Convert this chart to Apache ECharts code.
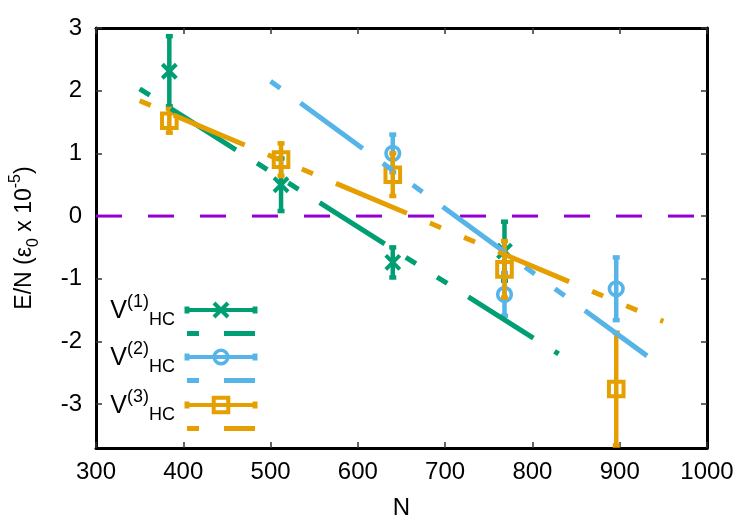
<!DOCTYPE html>
<html>
<head>
<meta charset="utf-8">
<script src="https://cdn.jsdelivr.net/npm/echarts@6/dist/echarts.min.js"></script>
<style>
html, body { margin: 0; padding: 0; background: #fff; }
#box { width: 750px; height: 525px; }
</style>
</head>
<body>
<div id="box"></div>
<script>
// data points with error bars: N, E/N, error
const nV1 = [384, 512, 640, 768]
const eV1 = [2.31, 0.50, -0.74, -0.56]
const errV1 = [0.56, 0.42, 0.24, 0.47]
const nV2 = [640, 768, 896]
const eV2 = [1.00, -1.25, -1.16]
const errV2 = [0.30, 0.34, 0.50]
const nV3 = [384, 512, 640, 768, 896]
const eV3 = [1.52, 0.90, 0.66, -0.85, -2.76]
const errV3 = [0.19, 0.26, 0.34, 0.45, 0.90]

// fitted lines (end points)
const fitN1 = [350, 830]
const fitE1 = [2.03, -2.20]
const fitN2 = [500, 950]
const fitE2 = [2.15, -2.42]
const fitN3 = [350, 950]
const fitE3 = [1.84, -1.68]

const zeroN = [300, 1000]
const zeroE = [0, 0]

const yTicks = [-3, -2, -1, 0, 1, 2, 3]

const GREEN = '#009E73'
const BLUE = '#56B4E9'
const ORANGE = '#E69F00'
const VIOLET = '#9400D3'
const FONT = 'Liberation Sans, Arial, sans-serif'
const DASH = [12, 25, 77, 25, 12, 25]

function rows (n, e, err) {
  return n.map((x, i) => [x, e[i], err === undefined ? 0 : err[i]])
}

// marker shapes, centred on (cx, cy)
function marker (kind, cx, cy, color) {
  if (kind === 'x') {
    const s = 7
    const st = { stroke: color, lineWidth: 4, fill: null }
    return [
      { type: 'line', shape: { x1: cx - s, y1: cy - s, x2: cx + s, y2: cy + s }, style: st },
      { type: 'line', shape: { x1: cx - s, y1: cy + s, x2: cx + s, y2: cy - s }, style: st }
    ]
  }
  if (kind === 'circle') {
    return [{ type: 'circle', shape: { cx: cx, cy: cy, r: 6.8 }, style: { stroke: color, lineWidth: 3.6, fill: null } }]
  }
  return [{ type: 'rect', shape: { x: cx - 7.3, y: cy - 7.3, width: 14.6, height: 14.6 }, style: { stroke: color, lineWidth: 4, fill: null } }]
}

function errRender (kind, color) {
  return function (params, api) {
    const x = api.value(0)
    const y = api.value(1)
    const e = api.value(2)
    const c = api.coord([x, y])
    const top = api.coord([x, y + e])
    const bot = api.coord([x, y - e])
    const st = { stroke: color, lineWidth: 4.5, fill: null }
    const kids = [
      { type: 'line', shape: { x1: c[0], y1: top[1], x2: c[0], y2: bot[1] }, style: st },
      { type: 'line', shape: { x1: c[0] - 3.5, y1: top[1], x2: c[0] + 3.5, y2: top[1] }, style: st },
      { type: 'line', shape: { x1: c[0] - 3.5, y1: bot[1], x2: c[0] + 3.5, y2: bot[1] }, style: st }
    ]
    return { type: 'group', children: kids.concat(marker(kind, c[0], c[1], color)) }
  }
}

function errSeries (name, kind, color, data) {
  return {
    type: 'custom',
    name: name,
    clip: true,
    silent: true,
    encode: { x: 0, y: 1 },
    renderItem: errRender(kind, color),
    data: data
  }
}

function fitSeries (name, color, n, e) {
  return {
    type: 'line',
    name: name,
    silent: true,
    symbol: 'none',
    lineStyle: { color: color, width: 5, type: DASH, cap: 'butt' },
    data: rows(n, e).map(r => [r[0], r[1]])
  }
}

// legend drawn by hand (gnuplot style key)
const keyRows = [310, 333.5, 357, 380.5, 405, 428.5]
const keyX1 = 187
const keyX2 = 255
const keyLabels = ['V{sup|(1)}{sub|HC}', 'V{sup|(2)}{sub|HC}', 'V{sup|(3)}{sub|HC}']
const keyColors = [GREEN, BLUE, ORANGE]
const keyKinds = ['x', 'circle', 'square']

function keyGraphics () {
  const out = []
  keyColors.forEach((col, i) => {
    const y1 = keyRows[i * 2]
    const y2 = keyRows[i * 2 + 1]
    const st = { stroke: col, lineWidth: 4, fill: null }
    out.push({ type: 'line', shape: { x1: keyX1, y1: y1, x2: keyX2, y2: y1 }, style: st })
    out.push({ type: 'line', shape: { x1: keyX1, y1: y1 - 3.5, x2: keyX1, y2: y1 + 3.5 }, style: { stroke: col, lineWidth: 5 } })
    out.push({ type: 'line', shape: { x1: keyX2, y1: y1 - 3.5, x2: keyX2, y2: y1 + 3.5 }, style: { stroke: col, lineWidth: 5 } })
    marker(keyKinds[i], 221, y1, col).forEach(m => out.push(m))
    out.push({ type: 'line', shape: { x1: keyX1, y1: y2, x2: keyX2, y2: y2 }, style: { stroke: col, lineWidth: 5, lineDash: DASH } })
    out.push({
      type: 'text',
      style: {
        text: keyLabels[i],
        x: 175,
        y: y1 + 1,
        align: 'right',
        verticalAlign: 'middle',
        fontSize: 25,
        lineHeight: 36,
        fontFamily: FONT,
        fill: '#000',
        rich: {
          sup: { fontSize: 18, lineHeight: 18, verticalAlign: 'top', fontFamily: FONT, fill: '#000' },
          sub: { fontSize: 18, lineHeight: 18, verticalAlign: 'bottom', fontFamily: FONT, fill: '#000' }
        }
      }
    })
  })
  return out
}

const axisLineStyle = { show: true, onZero: false, lineStyle: { color: '#000', width: 3 } }
const tickStyle = { show: true, inside: true, length: 6, lineStyle: { color: '#333', width: 1.5 } }

const option = {
  backgroundColor: '#fff',
  animation: false,
  grid: { left: 88, right: 43, top: 28, bottom: 77 },
  xAxis: [{
    type: 'value',
    position: 'bottom',
    min: 300,
    max: 1000,
    interval: 100,
    name: 'N',
    nameLocation: 'middle',
    nameGap: 48,
    nameTextStyle: { fontSize: 24, color: '#000', fontFamily: FONT },
    axisLine: axisLineStyle,
    axisTick: tickStyle,
    axisLabel: { margin: 12, fontSize: 24, color: '#000', fontFamily: FONT, formatter: v => String(v) },
    splitLine: { show: false }
  }, {
    type: 'value',
    position: 'top',
    min: 300,
    max: 1000,
    interval: 100,
    axisLine: axisLineStyle,
    axisTick: tickStyle,
    axisLabel: { show: false },
    splitLine: { show: false }
  }],
  yAxis: [{
    type: 'value',
    position: 'left',
    min: -3.7,
    max: 3,
    name: 'E/N (ε{sub|0} x 10{sup|-5})',
    nameLocation: 'middle',
    nameGap: 54,
    nameTextStyle: {
      fontSize: 23,
      lineHeight: 34,
      color: '#000',
      fontFamily: FONT,
      rich: {
        sub: { fontSize: 16, lineHeight: 16, verticalAlign: 'bottom', fontFamily: FONT, color: '#000' },
        sup: { fontSize: 16, lineHeight: 16, verticalAlign: 'top', fontFamily: FONT, color: '#000' }
      }
    },
    axisLine: axisLineStyle,
    axisTick: Object.assign({ customValues: yTicks }, tickStyle),
    axisLabel: { customValues: yTicks, margin: 14, fontSize: 24, color: '#000', fontFamily: FONT },
    splitLine: { show: false }
  }, {
    type: 'value',
    position: 'right',
    min: -3.7,
    max: 3,
    axisLine: axisLineStyle,
    axisTick: Object.assign({ customValues: yTicks }, tickStyle),
    axisLabel: { show: false },
    splitLine: { show: false }
  }],
  series: [
    {
      type: 'line',
      name: 'zero',
      silent: true,
      symbol: 'none',
      lineStyle: { color: VIOLET, width: 3, type: [26, 26] },
      data: rows(zeroN, zeroE).map(r => [r[0], r[1]])
    },
    errSeries('V1', 'x', GREEN, rows(nV1, eV1, errV1)),
    fitSeries('V1 fit', GREEN, fitN1, fitE1),
    errSeries('V2', 'circle', BLUE, rows(nV2, eV2, errV2)),
    fitSeries('V2 fit', BLUE, fitN2, fitE2),
    errSeries('V3', 'square', ORANGE, rows(nV3, eV3, errV3)),
    fitSeries('V3 fit', ORANGE, fitN3, fitE3)
  ],
  graphic: keyGraphics()
}

const chart = echarts.init(document.getElementById('box'))
chart.setOption(option)
</script>
</body>
</html>
